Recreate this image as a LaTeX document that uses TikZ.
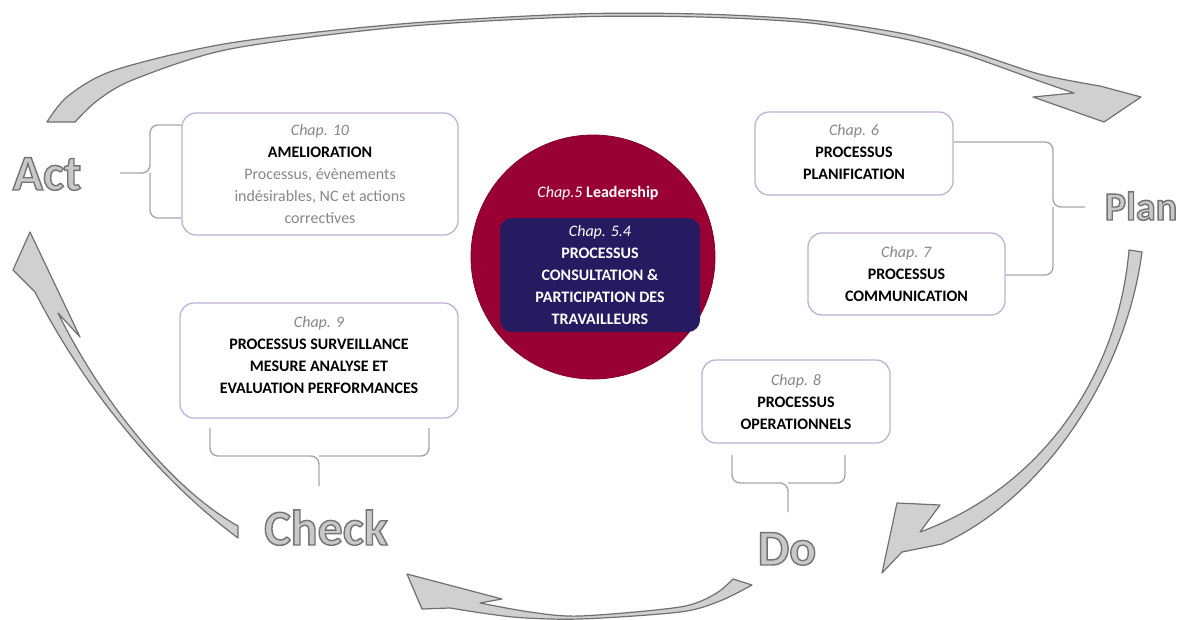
\documentclass[tikz,border=0pt]{standalone}
\usepackage{fontspec}
\setmainfont{Carlito}
\usetikzlibrary{calc}
\definecolor{crimson}{RGB}{153,0,51}
\definecolor{navy}{RGB}{38,26,96}
\definecolor{boxline}{RGB}{192,178,214}
\definecolor{bracecol}{RGB}{168,168,168}
\definecolor{arrowfill}{RGB}{208,208,208}
\definecolor{arrowline}{RGB}{112,112,112}
\definecolor{chapgray}{RGB}{135,135,135}
\definecolor{wordfill}{RGB}{200,200,200}
\newcommand\outlword[1]{{\color{wordfill}\special{pdf:literal direct 0.45 0.45 0.45 RG 2 Tr 1.4 w}#1\special{pdf:literal direct 0 Tr}}}
\begin{document}
\begin{tikzpicture}[x=1pt,y=-1pt,
  bigarrow/.style={fill=arrowfill,draw=arrowline,line width=1.2pt,line join=round},
  chapbox/.style={draw=boxline,line width=1.3pt,fill=white,rounded corners=14pt,inner sep=0pt},
  bracket/.style={draw=bracecol,line width=1.4pt,rounded corners=8pt},
  txt/.style={align=center,font=\fontsize{16}{22}\selectfont,text=black,inner sep=0pt},
  wtxt/.style={txt,text=white},
  pdca/.style={font=\fontsize{50}{50}\selectfont\bfseries,anchor=base,inner sep=0pt}]
\useasboundingbox (0,0) rectangle (1179,619);
\fill[white] (0,0) rectangle (1179,619);

% ---------- cycle arrows ----------
\path[bigarrow] plot[smooth] coordinates {(47,122) (68,96) (115,70) (230,43) (400,24) (574,14) (700,14) (810,20) (900,33) (963,49) (1039,74) (1100,86)}
  -- (1141,97) -- (1104,122) -- (1033,97)
  -- plot[smooth] coordinates {(1074,93) (1039,81) (963,54) (900,38) (810,23) (700,17) (574,17) (400,27) (230,49) (135,79) (98,100) (75,122)} -- cycle;

\path[bigarrow] (1142,252) .. controls (1125,380) and (1040,500) .. (942,544) -- (902,552)
  -- (882,573) -- (897,503) -- (940,505) -- (920,532)
  .. controls (1040,488) and (1118,378) .. (1129,250) -- cycle;

\path[bigarrow] plot[smooth] coordinates {(752,585) (720,601) (680,612) (580,619) (513,617) (450,608)}
  -- (422,609) -- (407,574) -- (502,599)
  -- plot[smooth] coordinates {(480,603) (530,612) (580,616) (680,607) (715,594) (733,579)} -- cycle;

\path[bigarrow] (238,538) .. controls (160,480) and (85,390) .. (35,292)
  -- (13,270) -- (30,232) -- (80,337) -- (58,313)
  .. controls (100,398) and (170,488) .. (238,526) -- cycle;

% ---------- PDCA words ----------
\node[pdca] (act) at (47,190) {\outlword{Act}};
\node[pdca,font=\fontsize{40}{40}\selectfont\bfseries] (plan) at (1141,220) {\outlword{Plan}};
\node[pdca] (do) at (787,565) {\outlword{Do}};
\node[pdca] (check) at (326,545) {\outlword{Check}};

% ---------- centre ----------
\node[circle,fill=crimson,draw=crimson!85!black,line width=0.8pt,minimum size=244pt,inner sep=0pt] (lead) at (593,257) {};
\node[wtxt] (leadtxt) at (598,193) {\textit{Chap.5} \textbf{Leadership}};
\node[fill=navy,rounded corners=12pt,minimum width=200pt,minimum height=114pt,inner sep=0pt] (cp) at (600,275) {};
\node[wtxt] (cptxt) at (cp.center) {\textit{Chap. 5.4}\\\textbf{PROCESSUS}\\\textbf{CONSULTATION \&}\\\textbf{PARTICIPATION DES}\\\textbf{TRAVAILLEURS}};

% ---------- boxes ----------
\node[chapbox,minimum width=276pt,minimum height=122pt] (b10) at (320,174) {};
\node[txt] (t10) at (b10.center) {\textcolor{chapgray}{\textit{Chap. 10}}\\\textbf{AMELIORATION}\\\textcolor{chapgray}{Processus, évènements}\\\textcolor{chapgray}{indésirables, NC et actions}\\\textcolor{chapgray}{correctives}};

\node[chapbox,minimum width=278pt,minimum height=115pt] (b9) at (319,360.5) {};
\node[txt] (t9) at ([yshift=6pt]b9.center) {\textcolor{chapgray}{\textit{Chap. 9}}\\\textbf{PROCESSUS SURVEILLANCE}\\\textbf{MESURE ANALYSE ET}\\\textbf{EVALUATION PERFORMANCES}};

\node[chapbox,minimum width=198pt,minimum height=83pt] (b6) at (854,153.5) {};
\node[txt] (t6) at ([yshift=2pt]b6.center) {\textcolor{chapgray}{\textit{Chap. 6}}\\\textbf{PROCESSUS}\\\textbf{PLANIFICATION}};

\node[chapbox,minimum width=197pt,minimum height=82pt] (b7) at (906.5,274) {};
\node[txt] (t7) at (b7.center) {\textcolor{chapgray}{\textit{Chap. 7}}\\\textbf{PROCESSUS}\\\textbf{COMMUNICATION}};

\node[chapbox,minimum width=188pt,minimum height=83pt] (b8) at (796,401.5) {};
\node[txt] (t8) at (b8.center) {\textcolor{chapgray}{\textit{Chap. 8}}\\\textbf{PROCESSUS}\\\textbf{OPERATIONNELS}};

% ---------- brackets ----------
\coordinate (actTip) at (120,173);
\draw[bracket] (b10.west |- 0,125) -- (150,125) -- (150,173) -- (actTip);
\draw[bracket] (b10.west |- 0,218) -- (150,218) -- (150,173);

\coordinate (planTip) at (1085,207);
\draw[bracket] (b6.east |- 0,142) -- (1053,142) -- (1053,207) -- (planTip);
\draw[bracket] (b7.east |- 0,275) -- (1053,275) -- (1053,207);

\coordinate (checkTip) at (319,486);
\draw[bracket] (210,428) -- (210,456) -- (319,456) -- (checkTip);
\draw[bracket] (429,428) -- (429,456) -- (319,456);

\coordinate (doTip) at (788,512);
\draw[bracket] (732,455) -- (732,483) -- (788,483) -- (doTip);
\draw[bracket] (845,455) -- (845,483) -- (788,483);
\end{tikzpicture}
\end{document}
